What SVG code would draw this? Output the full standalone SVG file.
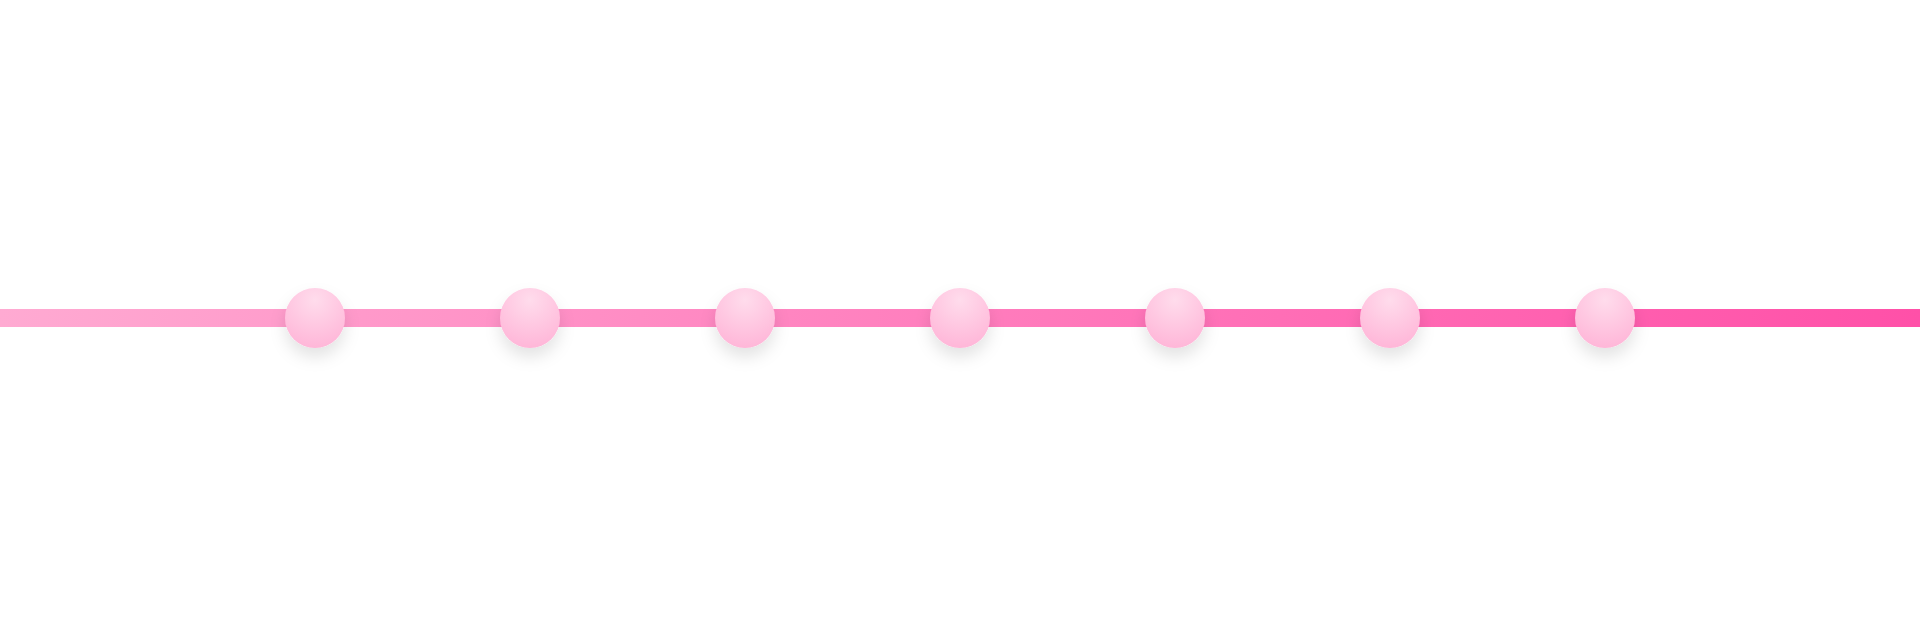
<svg xmlns="http://www.w3.org/2000/svg" width="1920" height="636" viewBox="0 0 1920 636">
<defs>
<linearGradient id="lineGrad" x1="0" y1="0" x2="1920" y2="0" gradientUnits="userSpaceOnUse">
<stop offset="0" stop-color="#FFAAD2"/>
<stop offset="1" stop-color="#FF50A8"/>
</linearGradient>
<radialGradient id="nodeGrad" cx="0.5" cy="0.2" r="0.85">
<stop offset="0" stop-color="#FFDCEC"/>
<stop offset="1" stop-color="#FFB4D7"/>
</radialGradient>
<filter id="shadow" x="-60%" y="-60%" width="220%" height="240%">
<feGaussianBlur in="SourceAlpha" stdDeviation="8"/>
<feOffset dx="0" dy="9" result="b"/>
<feFlood flood-color="#000" flood-opacity="0.11"/>
<feComposite in2="b" operator="in"/>
<feMerge><feMergeNode/><feMergeNode in="SourceGraphic"/></feMerge>
</filter>
<style>
.node{fill:url(#nodeGrad);filter:url(#shadow);}
</style>
</defs>
<rect width="1920" height="636" fill="#FFFFFF"/>
<g id="connectors">
<rect x="0" y="309" width="1920" height="18" fill="url(#lineGrad)"/>
</g>
<g id="node1"><circle class="node" cx="315" cy="318" r="30"/></g>
<g id="node2"><circle class="node" cx="530" cy="318" r="30"/></g>
<g id="node3"><circle class="node" cx="745" cy="318" r="30"/></g>
<g id="node4"><circle class="node" cx="960" cy="318" r="30"/></g>
<g id="node5"><circle class="node" cx="1175" cy="318" r="30"/></g>
<g id="node6"><circle class="node" cx="1390" cy="318" r="30"/></g>
<g id="node7"><circle class="node" cx="1605" cy="318" r="30"/></g>
</svg>
